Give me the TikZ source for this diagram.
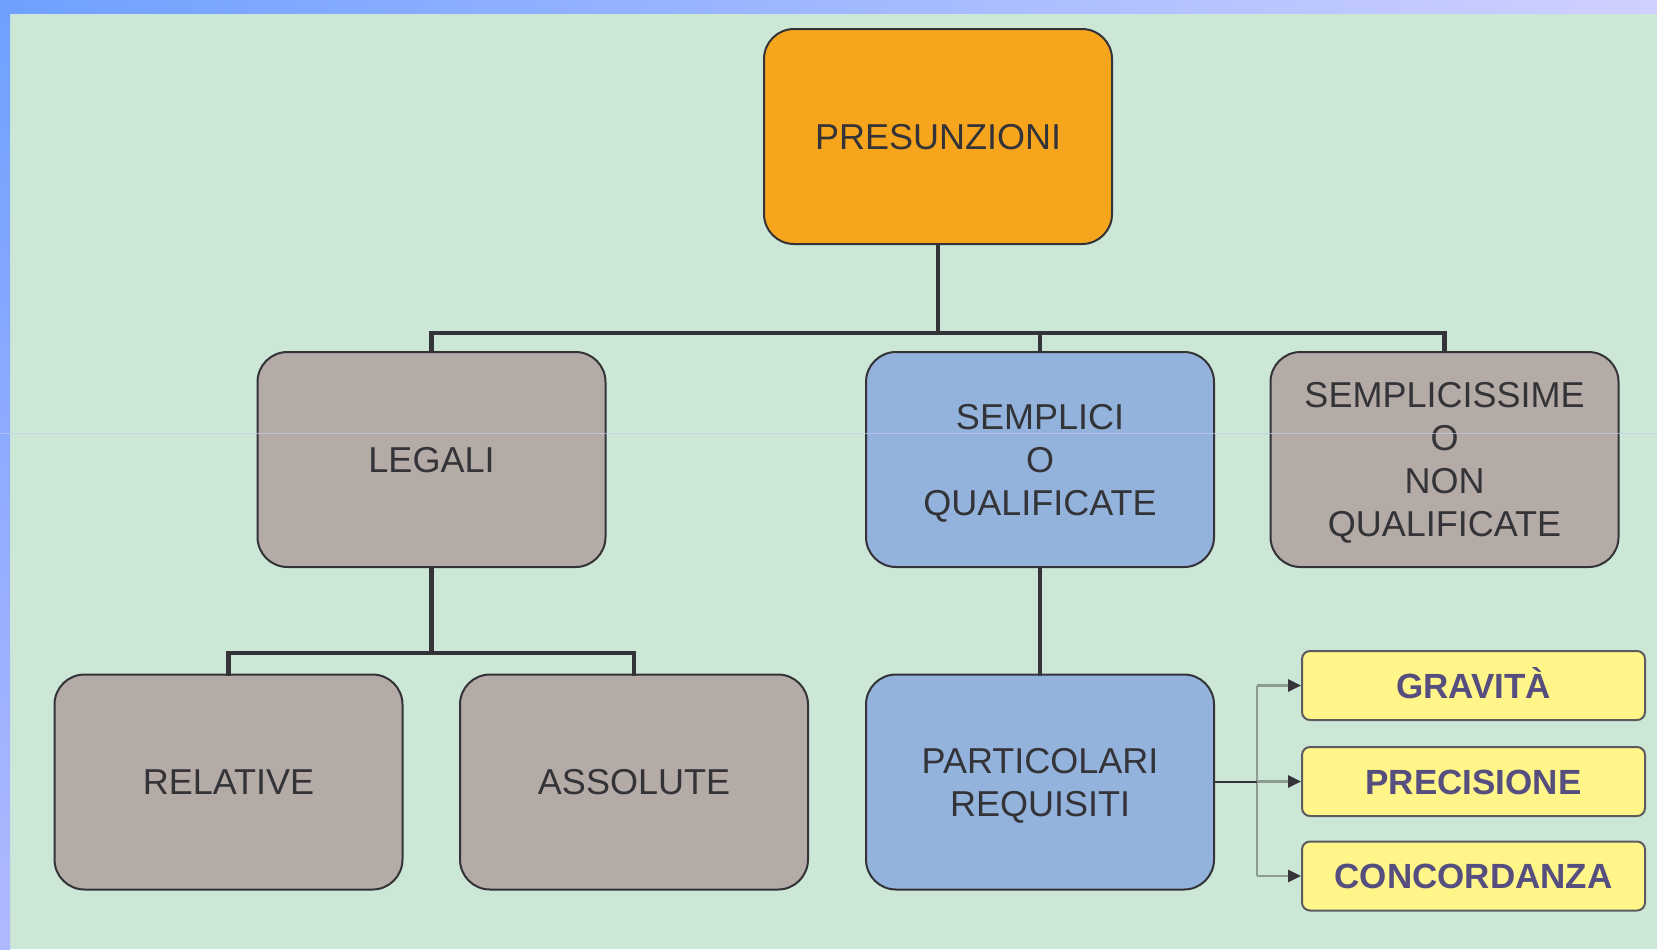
\documentclass[tikz,border=0pt]{standalone}
\usepackage{fontspec}
\setmainfont{Liberation Sans}
\usetikzlibrary{arrows.meta,calc}

\definecolor{bgmint}{HTML}{CDE7D6}
\definecolor{edgeA}{HTML}{6FA0FF}
\definecolor{edgeB}{HTML}{D0D0FF}
\definecolor{edgeC}{HTML}{B0B8FF}
\definecolor{boxorange}{HTML}{F7A51D}
\definecolor{boxgray}{HTML}{B4AAA6}
\definecolor{boxblue}{HTML}{93B3DD}
\definecolor{boxyellow}{HTML}{FFF588}
\definecolor{inkdark}{HTML}{333338}
\definecolor{inkpurple}{HTML}{554E7E}
\definecolor{thinline}{HTML}{8C9C92}
\definecolor{hairline}{HTML}{C4CCEA}

\tikzset{
  x=0.5pt, y=-0.5pt,
  bigbox/.style={draw=inkdark, line width=1pt, rounded corners=15pt,
    minimum width=174pt, minimum height=107.5pt, align=center,
    text=inkdark, font=\fontsize{18}{21.5}\selectfont, inner sep=0pt,
    text depth=0pt},
  tagbox/.style={draw=inkdark!80, line width=1pt, rounded corners=4pt,
    fill=boxyellow, minimum width=171.5pt, minimum height=34.5pt,
    text=inkpurple, font=\fontsize{17.5}{20}\selectfont\bfseries, inner sep=0pt,
    text height=12.5pt, text depth=0pt},
  conn/.style={draw=inkdark, line width=2.3pt, line cap=rect, line join=miter},
  feed/.style={draw=thinline, line width=1.3pt},
  feedarrow/.style={feed, -{Triangle[length=6.5pt,width=6pt,color=inkdark]}},
}

\begin{document}
\begin{tikzpicture}
  % page and frame
  \useasboundingbox (0,0) rectangle (1657,949);
  \fill[bgmint] (0,0) rectangle (1657,949);
  \shade[left color=edgeA, right color=edgeB] (0,0) rectangle (1657,13);
  \shade[top color=edgeA, bottom color=edgeC] (0,0) rectangle (10,949);

  % main hierarchy
  \node[bigbox, fill=boxorange] (pres) at (938,136.5) {PRESUNZIONI};
  \node[bigbox, fill=boxgray] (legali) at (431.5,459.5) {LEGALI};
  \node[bigbox, fill=boxblue] (semp) at (1040,459.5) {SEMPLICI\\O\\QUALIFICATE};
  \node[bigbox, fill=boxgray] (sempx) at (1444.5,459.5) {SEMPLICISSIME\\O\\NON\\QUALIFICATE};
  \node[bigbox, fill=boxgray] (rel) at (228.5,782) {RELATIVE};
  \node[bigbox, fill=boxgray] (ass) at (634,782) {ASSOLUTE};
  \node[bigbox, fill=boxblue] (part) at (1040,782) {PARTICOLARI\\REQUISITI};

  % requirement tags
  \node[tagbox] (grav) at (1473.5,685.5) {GRAVITÀ};
  \node[tagbox] (prec) at (1473.5,781.5) {PRECISIONE};
  \node[tagbox] (conc) at (1473.5,876) {CONCORDANZA};

  % tree connectors
  \coordinate (barA) at (0,333);
  \coordinate (barB) at (0,653);
  \coordinate (split) at (1257,0);

  \draw[conn] (pres.south) -- (pres.south |- barA);
  \draw[conn] (legali.north) -- (legali.north |- barA) -- (sempx.north |- barA) -- (sempx.north);
  \draw[conn] (semp.north) -- (semp.north |- barA);

  \draw[conn] (legali.south) -- (legali.south |- barB);
  \draw[conn] (rel.north) -- (rel.north |- barB) -- (ass.north |- barB) -- (ass.north);

  \draw[conn] (semp.south) -- (semp.south |- part.north);

  % fan-out to the tags
  \draw[feed] (split |- grav.west) -- (split |- conc.west);
  \draw[feedarrow] (split |- grav.west) -- (grav.west);
  \draw[feedarrow] (split |- prec.west) -- (prec.west);
  \draw[feedarrow] (split |- conc.west) -- (conc.west);
  \draw[draw=inkdark, line width=1.3pt] (part.east) -- (part.east -| split);

  % faint rule across the sheet
  \draw[hairline, line width=0.5pt, opacity=0.7] (0,433) -- (1657,433);
\end{tikzpicture}
\end{document}
